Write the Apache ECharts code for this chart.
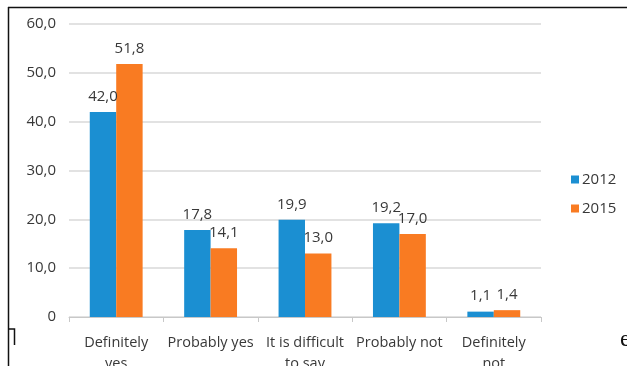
<!DOCTYPE html>
<html>
<head>
<meta charset="utf-8">
<script src="https://cdn.jsdelivr.net/npm/echarts@6/dist/echarts.min.js"></script>
<style>
  html, body { margin: 0; padding: 0; background: #fff; }
  #chart { width: 627px; height: 366px; }
</style>
</head>
<body>
<div id="chart"></div>
<script>
// Survey answers, share of respondents (%)
const categories = ['Definitely\nyes', 'Probably yes', 'It is difficult\nto say', 'Probably not', 'Definitely\nnot'];
const years = ['2012', '2015'];
const values2012 = [42.0, 17.8, 19.9, 19.2, 1.1];
const values2015 = [51.8, 14.1, 13.0, 17.0, 1.4];
const yTicks = [0, 10, 20, 30, 40, 50, 60];

const FONT = '"Open Sans", "Noto Sans", sans-serif';
const TEXT = '#383838';
const comma = v => (v === 0 ? '0' : v.toFixed(1).replace('.', ','));

const chart = echarts.init(document.getElementById('chart'), null, { renderer: 'canvas' });

const barLabel = {
  show: true,
  position: 'top',
  distance: 8,
  color: TEXT,
  fontFamily: FONT,
  fontSize: 15,
  formatter: p => comma(p.value)
};

chart.setOption({
  animation: false,
  backgroundColor: '#ffffff',
  grid: {
    left: 69, right: 86, top: 24, bottom: 49,
    containLabel: false,
    outerBoundsMode: 'none'
  },
  legend: {
    orient: 'vertical',
    left: 566,
    top: 167,
    itemWidth: 8,
    itemHeight: 8,
    itemGap: 14,
    icon: 'rect',
    textStyle: { color: TEXT, fontFamily: FONT, fontSize: 15, padding: [0, 0, 0, -2] },
    data: years
  },
  xAxis: {
    type: 'category',
    data: categories,
    axisLine: { lineStyle: { color: '#c8c8c8', width: 1 } },
    axisTick: { show: true, length: 5, lineStyle: { color: '#c8c8c8' } },
    axisLabel: {
      color: TEXT, fontFamily: FONT, fontSize: 14.5, lineHeight: 21,
      margin: 15, interval: 0
    }
  },
  yAxis: {
    type: 'value',
    min: yTicks[0],
    max: yTicks[yTicks.length - 1],
    interval: yTicks[1] - yTicks[0],
    axisLine: { show: false },
    axisTick: { show: false },
    splitLine: { lineStyle: { color: '#d9d9d9', width: 1.5 } },
    axisLabel: {
      color: TEXT, fontFamily: FONT, fontSize: 15, margin: 13,
      formatter: v => comma(v)
    }
  },
  series: [
    {
      name: years[0], type: 'bar', data: values2012,
      barGap: '0%', barCategoryGap: '44%',
      itemStyle: { color: '#1b8fd2' },
      label: barLabel
    },
    {
      name: years[1], type: 'bar', data: values2015,
      itemStyle: { color: '#f97b22' },
      label: barLabel
    }
  ],
  graphic: [
    // page frame around the figure
    { type: 'line', shape: { x1: 8, y1: 7.5, x2: 627, y2: 7.5 }, style: { stroke: '#111', lineWidth: 1.5 } },
    { type: 'line', shape: { x1: 8.5, y1: 7, x2: 8.5, y2: 366 }, style: { stroke: '#111', lineWidth: 1.5 } },
    // small frame corner at the lower left
    { type: 'polyline', shape: { points: [[8, 329], [14.5, 329], [14.5, 345]] }, style: { stroke: '#111', lineWidth: 1.5, fill: null } },
    // fragment of the surrounding page text, running off the right edge
    { type: 'text', x: 620, y: 328, style: { text: 'e', fill: '#111', font: '24px "Liberation Serif", serif' } }
  ]
});
</script>
</body>
</html>
